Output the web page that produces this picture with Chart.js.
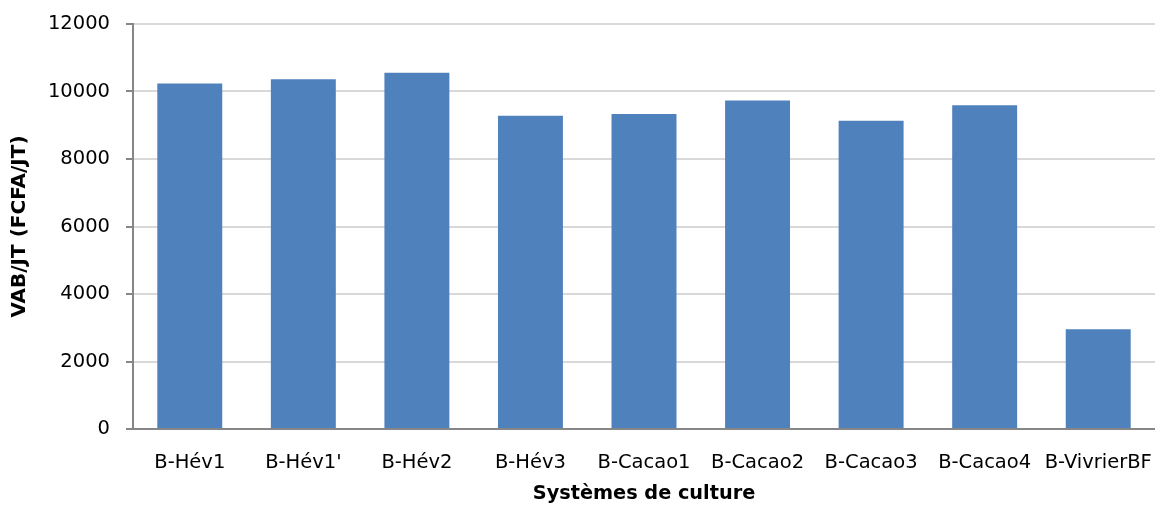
<!DOCTYPE html>
<html>
<head>
<meta charset="utf-8">
<script src="https://cdn.jsdelivr.net/npm/chart.js@4/dist/chart.umd.min.js"></script>
<style>
  html, body { margin: 0; padding: 0; background: #fff; }
  #wrap { width: 1155px; height: 506px; position: relative; }
</style>
</head>
<body>
<div id="wrap"><canvas id="chart"></canvas></div>
<script>
// --- data ---
const categories = ['B-Hév1', "B-Hév1'", 'B-Hév2', 'B-Hév3', 'B-Cacao1', 'B-Cacao2', 'B-Cacao3', 'B-Cacao4', 'B-VivrierBF'];
const vabValues = [10240, 10360, 10555, 9285, 9335, 9730, 9135, 9590, 2955];
const yTicks = [0, 2000, 4000, 6000, 8000, 10000, 12000];

const yTitle = 'VAB/JT (FCFA/JT)';
const xTitle = 'Systèmes de culture';

const FONT = "'DejaVu Sans', Verdana, sans-serif";

const ctx = document.getElementById('chart');
// eslint-disable-next-line no-undef
new Chart(ctx.getContext('2d'), {
  type: 'bar',
  data: {
    labels: categories,
    datasets: [{
      label: yTitle,
      data: vabValues,
      backgroundColor: '#4F81BD',
      borderWidth: 0,
      barPercentage: 0.572,
      categoryPercentage: 1
    }]
  },
  options: {
    responsive: true,
    maintainAspectRatio: false,
    animation: false,
    layout: { padding: { top: 24, right: 0, left: 0, bottom: 0 } },
    plugins: { legend: { display: false }, tooltip: { enabled: false } },
    scales: {
      x: {
        grid: { display: false, drawTicks: false },
        border: { color: '#868686', width: 2 },
        ticks: { color: '#000', font: { family: FONT, size: 19.5 }, padding: 22, maxRotation: 0, autoSkip: false },
        title: { display: true, text: xTitle, color: '#000', font: { family: FONT, size: 19.3, weight: 'bold' }, padding: { top: 6, bottom: 0 } },
        afterFit(scale){ scale.height = 77; scale.paddingLeft = 0; scale.paddingRight = 0; }
      },
      y: {
        min: 0, max: 12000,
        afterBuildTicks(scale){ scale.ticks = yTicks.map(v => ({ value: v })); },
        grid: { color: '#d9d9d9', lineWidth: 2, tickLength: 7, tickColor: '#868686' },
        border: { color: '#868686', width: 2 },
        ticks: { color: '#000', font: { family: FONT, size: 19.5 }, padding: 16, callback: v => String(v) },
        title: { display: true, text: yTitle, color: '#000', font: { family: FONT, size: 20, weight: 'bold' }, padding: { top: 8, bottom: 4 } },
        afterFit(scale){ scale.width = 133; scale.paddingTop = 0; scale.paddingBottom = 0; }
      }
    }
  }
});
</script>
</body>
</html>
